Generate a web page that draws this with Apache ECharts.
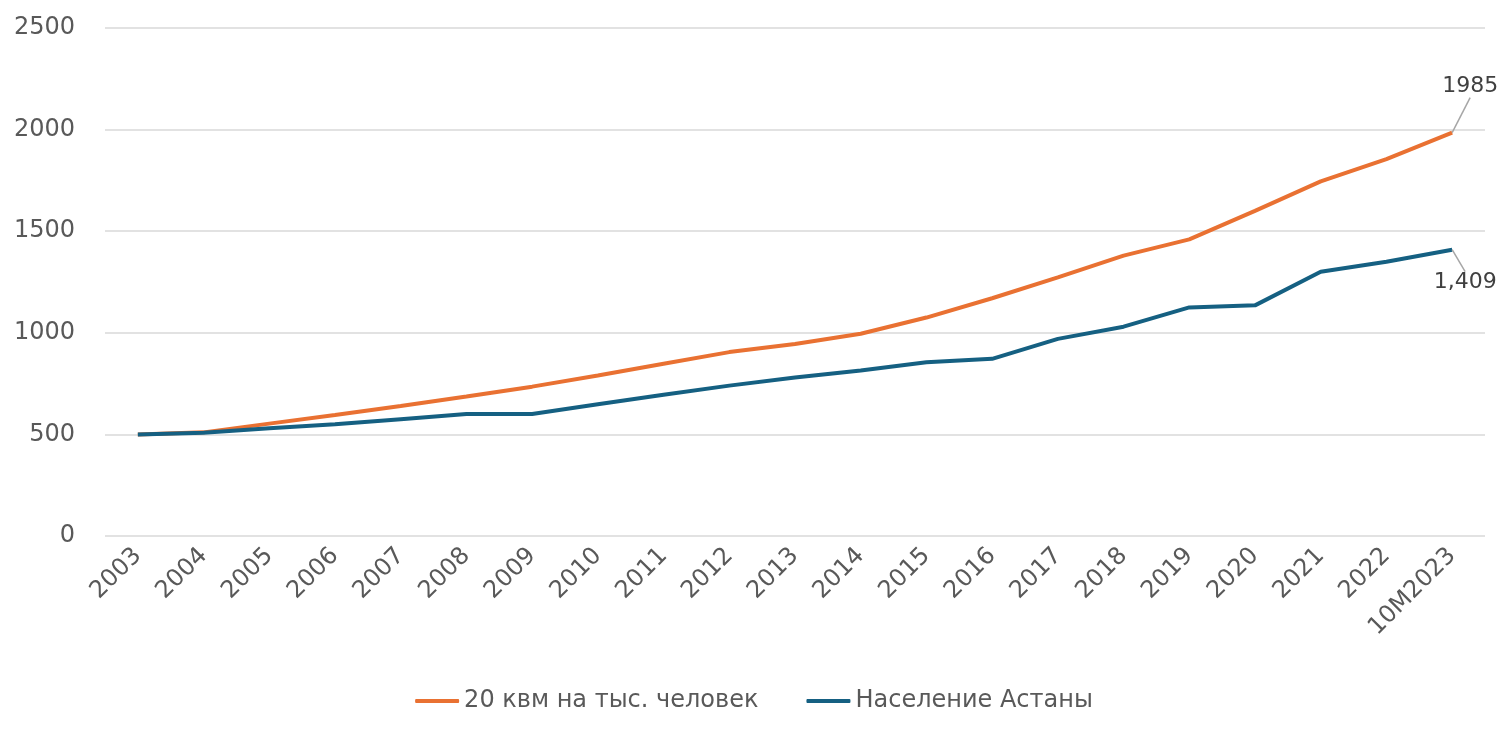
<!DOCTYPE html>
<html><head><meta charset="utf-8">
<script src="https://cdn.jsdelivr.net/npm/echarts@6/dist/echarts.min.js"></script>
<style>html,body{margin:0;padding:0;background:#fff}#c{width:1508px;height:736px}</style>
</head><body><div id="c"></div>
<script>
const categories = ['2003','2004','2005','2006','2007','2008','2009','2010','2011','2012','2013','2014','2015','2016','2017','2018','2019','2020','2021','2022','10M2023'];
const housing = [500,510,553,595,640,687,735,790,848,905,945,995,1075,1170,1273,1380,1460,1600,1745,1855,1985];
const population = [500,508,530,550,575,600,600,648,695,740,780,815,855,872,970,1030,1125,1135,1300,1350,1409];
const seriesNames = ['20 квм на тыс. человек','Население Астаны'];
const endLabels = ['1985','1,409'];

const FONT = 'DejaVu Sans, Verdana, sans-serif';
const chart = echarts.init(document.getElementById('c'));
function lastLabel(arr, fmt){
  return arr.map((v,i)=> i===arr.length-1 ? {value:v,label:{show:true,formatter:fmt}} : v);
}
chart.setOption({
  animation:false,
  grid:{left:105,right:23,top:28,bottom:200},
  legend:{top:684,left:'center',itemWidth:44,itemHeight:4,itemGap:48,icon:'roundRect',
    textStyle:{fontFamily:FONT,fontSize:24,color:'#595959'},
    data:seriesNames},
  xAxis:{type:'category',data:categories,boundaryGap:true,
    axisLine:{show:false},axisTick:{show:false},
    axisLabel:{rotate:45,fontSize:24,color:'#595959',fontFamily:FONT,interval:0,margin:16}},
  yAxis:{type:'value',min:0,max:2500,interval:500,
    axisLabel:{fontSize:24,color:'#595959',fontFamily:FONT,margin:30,formatter:v=>String(v)},
    splitLine:{lineStyle:{color:'#d9d9d9',width:1.5}},axisLine:{show:false},axisTick:{show:false}},
  series:[
    {name:seriesNames[0],type:'line',data:lastLabel(housing,endLabels[0]),symbol:'circle',symbolSize:0.1,showSymbol:true,
      lineStyle:{color:'#E97132',width:4},itemStyle:{color:'#E97132'},
      label:{position:'top',fontSize:22,color:'#404040',fontFamily:FONT},
      labelLayout:{dx:18,dy:-30},labelLine:{show:true,lineStyle:{color:'#a6a6a6',width:1.5}}},
    {name:seriesNames[1],type:'line',data:lastLabel(population,endLabels[1]),symbol:'circle',symbolSize:0.1,showSymbol:true,
      lineStyle:{color:'#156082',width:4},itemStyle:{color:'#156082'},
      label:{position:'bottom',fontSize:22,color:'#404040',fontFamily:FONT},
      labelLayout:{dx:13,dy:17},labelLine:{show:true,lineStyle:{color:'#a6a6a6',width:1.5}}}
  ]
});
</script></body></html>
